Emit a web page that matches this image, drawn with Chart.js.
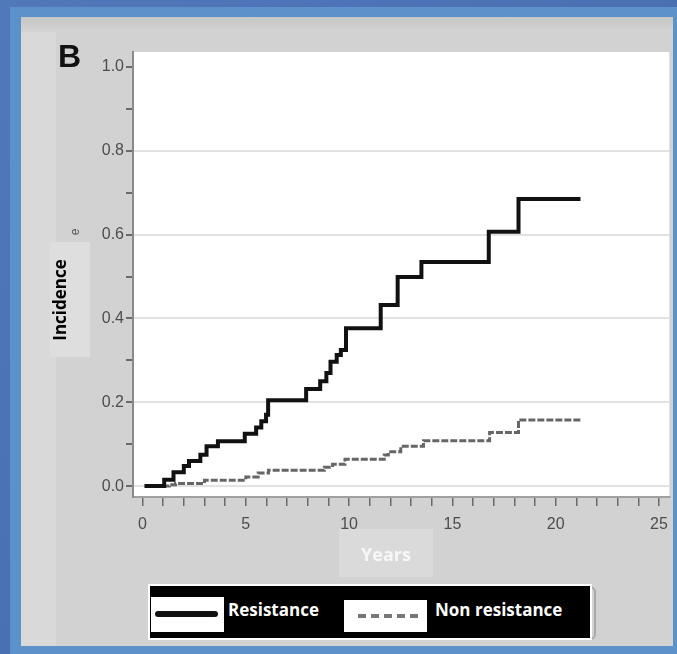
<!DOCTYPE html>
<html>
<head>
<meta charset="utf-8">
<script src="https://cdn.jsdelivr.net/npm/chart.js@4.4.1/dist/chart.umd.min.js"></script>
<style>
  html, body { margin:0; padding:0; }
  body { width:677px; height:654px; position:relative; overflow:hidden;
         background: linear-gradient(135deg, #5078bb 0%, #4a70b4 50%, #3a5fa3 100%); }
  .abs { position:absolute; }
  #frame { left:10px; top:7px; width:667px; height:647px; background:#5b92c9; }
  #panel { left:21px; top:17px; width:652px; height:629px; background:#d9d9d9; }
  #topband { left:21px; top:17px; width:652px; height:15px; background:linear-gradient(#c6c6c6,#d4d4d4); }
  #inner { left:56px; top:32px; width:617px; height:614px; background:#d2d2d2; }
  #ybox { left:50px; top:242px; width:40px; height:115px; background:#dedede; }
  #xbox { left:339px; top:529px; width:94px; height:48px; background:#dadada; }
  canvas { position:absolute; left:0; top:0; }
  #B { left:58px; top:38px; font:bold 32px "Liberation Sans", Arial, sans-serif; color:#111; line-height:36px; }
  #ylab { left:59px; top:300px; transform:translate(-50%,-50%) rotate(-90deg); white-space:nowrap;
          font:bold 17px "Open Sans", sans-serif; color:#000; }
  #yfrag { left:75px; top:232px; transform:translate(-50%,-50%) rotate(-90deg); font:12px "Liberation Sans", sans-serif; color:#555; }
  #xlab { left:386px; top:554px; transform:translate(-50%,-50%); font:bold 18px "Open Sans", sans-serif; color:#f7f7f7; }
  #legend { left:148px; top:584px; width:440px; height:52px; background:#000; border:2px solid #fff; }
  #legremnant { left:560px; top:586px; width:34px; height:50px; border:2px solid #a8a8a8; border-left:none; border-radius:0 6px 6px 0; }
  .swatch { position:absolute; background:#fff; }
  #sw1 { left:1px; top:11px; width:73px; height:35px; }
  #sw2 { left:194px; top:14px; width:83px; height:32px; }
  #line1 { position:absolute; left:4px; top:14px; width:63px; height:6px; background:#111; border-radius:3px; }
  #line2 { position:absolute; left:14px; top:14px; width:60px; height:0; border-top:4px dashed #777; }
  .ltxt { position:absolute; top:12px; font:bold 17px "Open Sans", sans-serif; color:#fff; white-space:nowrap; }
</style>
</head>
<body>
<div id="frame" class="abs"></div>
<div id="panel" class="abs"></div>
<div id="topband" class="abs"></div>
<div id="inner" class="abs"></div>
<div id="ybox" class="abs"></div>
<div id="xbox" class="abs"></div>
<div id="legremnant" class="abs"></div>
<canvas id="c" width="677" height="654"></canvas>
<div id="B" class="abs">B</div>
<div id="yfrag" class="abs">e</div>
<div id="ylab" class="abs">Incidence</div>
<div id="xlab" class="abs">Years</div>
<div id="legend" class="abs">
  <div id="sw1" class="swatch"><div id="line1"></div></div>
  <div class="ltxt" style="left:78px">Resistance</div>
  <div id="sw2" class="swatch"><div id="line2"></div></div>
  <div class="ltxt" style="left:285px">Non resistance</div>
</div>
<script>
// ---- data ----
const resistanceYears  = [0.1, 1.05, 1.5, 2.0, 2.25, 2.8, 3.1, 3.65, 4.95, 5.5, 5.75, 5.98, 6.08, 7.92, 8.6, 8.9, 9.1, 9.4, 9.6, 9.85, 11.53, 12.35, 13.5, 16.76, 18.2, 21.2];
const resistanceValues = [0, 0.015, 0.033, 0.048, 0.06, 0.075, 0.095, 0.107, 0.125, 0.14, 0.155, 0.17, 0.205, 0.232, 0.25, 0.27, 0.297, 0.313, 0.325, 0.377, 0.432, 0.499, 0.535, 0.607, 0.685, 0.685];
const nonResistanceYears  = [0.1, 1.3, 1.6, 3.0, 5.0, 5.6, 6.1, 8.8, 9.2, 9.8, 11.7, 11.9, 12.5, 13.6, 16.8, 18.2, 21.2];
const nonResistanceValues = [0, 0.003, 0.006, 0.014, 0.022, 0.031, 0.038, 0.045, 0.052, 0.064, 0.074, 0.082, 0.095, 0.108, 0.128, 0.158, 0.158];
const xTickLabels = [0, 5, 10, 15, 20, 25];
const yTickLabels = [0.0, 0.2, 0.4, 0.6, 0.8, 1.0];
const yGridValues = [0.0, 0.2, 0.4, 0.6, 0.8];

const toPts = (xs, ys) => xs.map((x, i) => ({x: x, y: ys[i]}));
const near = (v, arr) => arr.some(a => Math.abs(a - v) < 1e-6);

const whiteArea = {
  id: 'whiteArea',
  beforeDraw(chart) {
    const a = chart.chartArea, ctx = chart.ctx;
    ctx.save(); ctx.fillStyle = '#ffffff';
    ctx.fillRect(a.left, a.top, a.right - a.left, a.bottom - a.top);
    ctx.restore();
  }
};

new Chart(document.getElementById('c'), {
  type: 'line',
  data: {
    datasets: [
      { label: 'Resistance', data: toPts(resistanceYears, resistanceValues),
        borderColor: '#111111', borderWidth: 4, stepped: true, pointRadius: 0,
        borderCapStyle: 'butt', borderJoinStyle: 'miter', fill: false },
      { label: 'Non resistance', data: toPts(nonResistanceYears, nonResistanceValues),
        borderColor: '#666666', borderWidth: 3, borderDash: [7, 2], stepped: true, pointRadius: 0,
        borderCapStyle: 'butt', borderJoinStyle: 'miter', fill: false }
    ]
  },
  options: {
    responsive: false, devicePixelRatio: 1, animation: false,
    layout: { padding: { left: 0, top: 52, right: 5, bottom: 0 } },
    plugins: { legend: { display: false }, tooltip: { enabled: false } },
    scales: {
      x: {
        type: 'linear', min: -0.46, max: 25.5,
        afterFit: s => { s.height = 157; },
        border: { display: true, color: '#a0a0a0', width: 2 },
        grid: { drawOnChartArea: false, tickLength: 9, tickColor: '#6a6a6a', lineWidth: 1.5 },
        ticks: { stepSize: 1, includeBounds: false, autoSkip: false, maxTicksLimit: 100, maxRotation: 0,
                 padding: 9, color: '#4d4d4d', font: { family: 'Liberation Sans', size: 16 },
                 callback: v => near(v, xTickLabels) ? String(Math.round(v)) : '' }
      },
      y: {
        type: 'linear', min: -0.026, max: 1.036,
        afterFit: s => { s.width = 133; },
        border: { display: true, color: '#8a8a8a', width: 2 },
        grid: { tickLength: 7, lineWidth: 2, tickColor: '#6a6a6a',
                color: c => (c.tick && near(c.tick.value, yGridValues)) ? '#e2e2e2' : 'rgba(0,0,0,0)' },
        ticks: { stepSize: 0.1, includeBounds: false, maxTicksLimit: 100, padding: 2,
                 color: '#4d4d4d', font: { family: 'Liberation Sans', size: 16 },
                 callback: v => near(v, yTickLabels) ? v.toFixed(1) : '' }
      }
    }
  },
  plugins: [whiteArea]
});
</script>
</body>
</html>
